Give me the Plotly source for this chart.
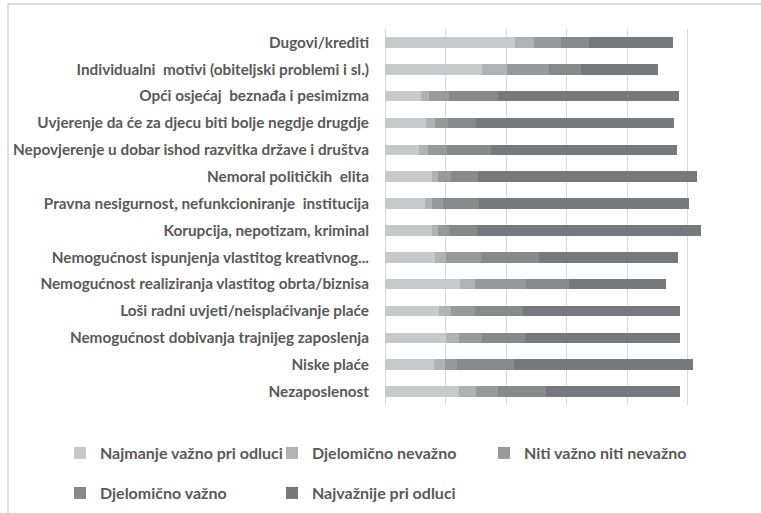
import plotly.graph_objects as go

categories = [
    "Dugovi/krediti",
    "Individualni  motivi (obiteljski problemi i sl.)",
    "Opći osjećaj  beznađa i pesimizma",
    "Uvjerenje da će za djecu biti bolje negdje drugdje",
    "Nepovjerenje u dobar ishod razvitka države i društva",
    "Nemoral političkih  elita",
    "Pravna nesigurnost, nefunkcioniranje  institucija",
    "Korupcija, nepotizam, kriminal",
    "Nemogućnost ispunjenja vlastitog kreativnog...",
    "Nemogućnost realiziranja vlastitog obrta/biznisa",
    "Loši radni uvjeti/neisplaćivanje plaće",
    "Nemogućnost dobivanja trajnijeg zaposlenja",
    "Niske plaće",
    "Nezaposlenost",
]

series_names = [
    "Najmanje važno pri odluci",
    "Djelomično nevažno",
    "Niti važno niti nevažno",
    "Djelomično važno",
    "Najvažnije pri odluci",
]

najmanje = [43.0, 32.0, 11.8, 13.7, 11.4, 15.4, 13.3, 15.4, 16.5, 24.8, 17.9, 20.3, 16.2, 24.4]
djel_nevazno = [6.4, 8.2, 2.9, 2.9, 2.9, 2.0, 2.2, 2.1, 3.8, 4.9, 4.0, 4.1, 3.6, 5.6]
niti = [8.8, 14.1, 6.5, 4.2, 6.1, 4.4, 3.6, 3.6, 11.3, 16.9, 7.8, 7.7, 4.1, 7.3]
djel_vazno = [9.4, 10.6, 16.2, 9.4, 14.6, 8.9, 12.0, 9.3, 19.4, 14.3, 15.8, 14.1, 18.8, 15.8]
najvaznije = [27.5, 25.3, 59.7, 65.3, 61.4, 72.4, 69.5, 73.9, 45.7, 32.1, 52.1, 51.3, 59.2, 44.5]

values = [najmanje, djel_nevazno, niti, djel_vazno, najvaznije]
colors = ["#c8c9cb", "#b1b2b4", "#98999b", "#88898b", "#77787b"]
legends = ["legend", "legend", "legend", "legend2", "legend2"]

W, H = 761, 513
L, R, T, B = 385, 748, 29, 405

fig = go.Figure()
for name, vals, col, lg in zip(series_names, values, colors, legends):
    fig.add_trace(go.Bar(
        y=categories, x=vals, name=name, orientation="h",
        marker=dict(color=col, line=dict(width=0)),
        legend=lg,
    ))

txt = "#595959"
font_fam = "Lato, Open Sans, sans-serif"

def px_x(p):
    return (p - L) / (R - L)

def px_y(p):
    return (B - p) / (B - T)

leg_common = dict(
    orientation="h", xanchor="left", yanchor="top",
    entrywidth=167, entrywidthmode="pixels", traceorder="normal",
    font=dict(family=font_fam, color=txt, size=16, weight="bold"),
    itemclick=False, bgcolor="rgba(0,0,0,0)",
)

fig.update_layout(
    width=W, height=H,
    barmode="stack",
    bargap=0.61,
    plot_bgcolor="white",
    paper_bgcolor="white",
    margin=dict(l=L, r=W - R, t=T, b=H - B, autoexpand=False),
    font=dict(family=font_fam, color=txt, size=13),
    xaxis=dict(
        range=[0, 120], dtick=20, showticklabels=False,
        showgrid=True, gridcolor="#d9d9d9", gridwidth=1,
        zeroline=True, zerolinecolor="#d9d9d9", zerolinewidth=1,
        ticks="", fixedrange=True,
    ),
    yaxis=dict(
        autorange="reversed", showgrid=False, ticks="",
        tickfont=dict(family=font_fam, color=txt, size=15.3, weight="bold"),
        ticklabelstandoff=15,
    ),
    legend=dict(x=px_x(60), y=px_y(436), **leg_common),
    legend2=dict(x=px_x(60), y=px_y(476), **leg_common),
    showlegend=True,
    shapes=[
        dict(type="rect", xref="paper", yref="paper", layer="below",
             x0=px_x(8), x1=px_x(790), y0=px_y(4), y1=px_y(540),
             line=dict(color="#d4d4d4", width=1.5),
             fillcolor="rgba(0,0,0,0)"),
    ],
)

fig.write_html("out.html", config={"displayModeBar": False},
               post_script="document.body.style.margin='0px';")
